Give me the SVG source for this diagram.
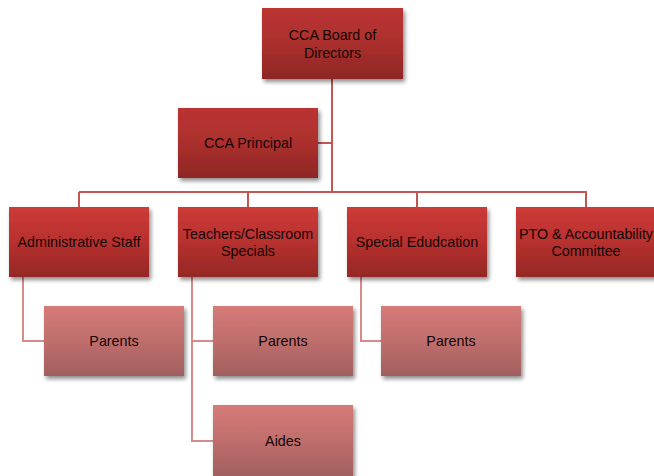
<svg xmlns="http://www.w3.org/2000/svg" width="654" height="476" viewBox="0 0 654 476">
<defs>
<linearGradient id="gDark" x1="0" y1="0" x2="0" y2="1">
<stop offset="0" stop-color="#cd3b38"/>
<stop offset="0.5" stop-color="#b7302e"/>
<stop offset="1" stop-color="#942826"/>
</linearGradient>
<linearGradient id="gTop" x1="0" y1="0" x2="0" y2="1">
<stop offset="0" stop-color="#bb3432"/>
<stop offset="0.5" stop-color="#ab2f2d"/>
<stop offset="1" stop-color="#8e2725"/>
</linearGradient>
<linearGradient id="gLight" x1="0" y1="0" x2="0" y2="1">
<stop offset="0" stop-color="#d57b78"/>
<stop offset="0.5" stop-color="#bf6e6c"/>
<stop offset="1" stop-color="#a15f5f"/>
</linearGradient>
<filter id="sh" x="-10%" y="-10%" width="125%" height="130%">
<feGaussianBlur in="SourceAlpha" stdDeviation="2"/>
<feOffset dx="2" dy="3" result="b"/>
<feComponentTransfer><feFuncA type="linear" slope="0.45"/></feComponentTransfer>
<feMerge><feMergeNode/><feMergeNode in="SourceGraphic"/></feMerge>
</filter>
</defs>
<style>
.top{fill:url(#gTop);filter:url(#sh)}
.dark{fill:url(#gDark);filter:url(#sh)}
.light{fill:url(#gLight);filter:url(#sh)}
.t{font-family:"Liberation Sans","Open Sans",sans-serif;font-size:14.3px;fill:#140606;text-anchor:middle}
.c1{fill:none;stroke:#c55553;stroke-width:2}
.c2{fill:none;stroke:#d48b89;stroke-width:2}
</style>
<g id="connectors">
<path class="c1" d="M332 79V192M318 143H332M79 192H587M79 192V207M248 192V207M417 192V207M586 192V207"/>
<path class="c2" d="M23 277V341H44M192 277V441H213M192 341H213M361 277V341H381"/>
</g>
<g id="board"><rect class="top" x="262" y="8" width="141" height="71"/><text class="t" x="332.5" y="40">CCA Board of</text><text class="t" x="332.5" y="58">Directors</text></g>
<g id="principal"><rect class="top" x="178" y="108" width="140" height="70"/><text class="t" x="248" y="148">CCA Principal</text></g>
<g id="admin"><rect class="dark" x="9" y="207" width="140" height="70"/><text class="t" x="79" y="247">Administrative Staff</text></g>
<g id="teachers"><rect class="dark" x="178" y="207" width="140" height="70"/><text class="t" x="248" y="239">Teachers/Classroom</text><text class="t" x="248" y="256">Specials</text></g>
<g id="special"><rect class="dark" x="347" y="207" width="140" height="70"/><text class="t" x="417" y="247">Special Edudcation</text></g>
<g id="pto"><rect class="dark" x="516" y="207" width="140" height="70"/><text class="t" x="586" y="239">PTO &amp; Accountability</text><text class="t" x="586" y="256">Committee</text></g>
<g id="parents1"><rect class="light" x="44" y="306" width="140" height="70"/><text class="t" x="114" y="346">Parents</text></g>
<g id="parents2"><rect class="light" x="213" y="306" width="140" height="70"/><text class="t" x="283" y="346">Parents</text></g>
<g id="parents3"><rect class="light" x="381" y="306" width="140" height="70"/><text class="t" x="451" y="346">Parents</text></g>
<g id="aides"><rect class="light" x="213" y="405" width="140" height="71"/><text class="t" x="283" y="446">Aides</text></g>
</svg>
